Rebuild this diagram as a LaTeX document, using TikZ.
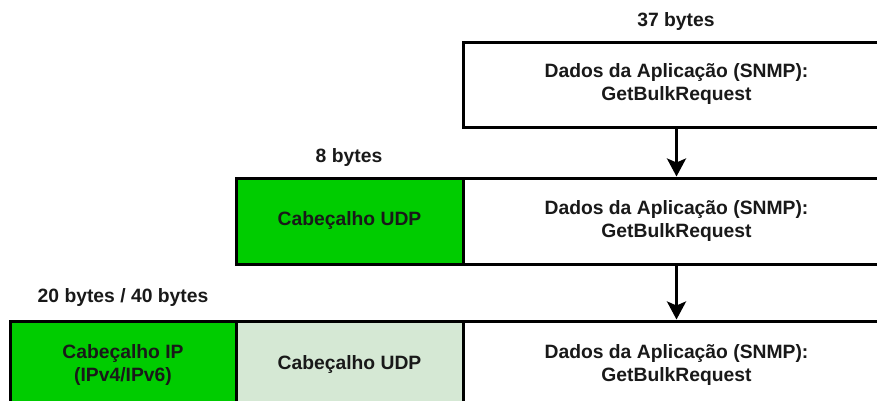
\documentclass[tikz,border=0pt]{standalone}
\usepackage{fontspec}
\setmainfont{Liberation Sans}
\usetikzlibrary{arrows.meta}
\definecolor{hdrgreen}{HTML}{00CC00}
\definecolor{palegreen}{HTML}{D5E8D4}
\begin{document}
\begin{tikzpicture}[x=1pt,y=-1pt,
  field/.style={draw=black, line width=3pt, rectangle, inner sep=0pt,
    align=center, font=\fontsize{19.3}{23}\selectfont\bfseries, text=black!90},
  sizelabel/.style={font=\fontsize{19.3}{23}\selectfont\bfseries, inner sep=0pt, text=black!90},
  flow/.style={line width=3pt, -{Stealth[width=19pt,length=18pt,inset=4pt]}}]
  \useasboundingbox (0,0) rectangle (877,400);
  \clip (0,0) rectangle (877,400);
  \fill[white] (0,0) rectangle (877,400);

  % application payload
  \node[field, fill=white, minimum width=427pt, minimum height=85pt] (app1) at (676.5,84.5)
    {Dados da Aplicação (SNMP):\\GetBulkRequest};
  \node[sizelabel] (len37) at (676,22) {37 bytes};

  % UDP segment
  \node[field, fill=white, minimum width=427pt, minimum height=86pt] (app2) at (676.5,221)
    {Dados da Aplicação (SNMP):\\GetBulkRequest};
  \node[field, fill=hdrgreen, minimum width=227pt, minimum height=86pt] (udp2) at (349.5,221)
    {Cabeçalho UDP};
  \node[sizelabel] (len8) at (349,158) {8 bytes};

  % IP datagram
  \node[field, fill=white, minimum width=427pt, minimum height=88pt] (app3) at (676.5,365)
    {Dados da Aplicação (SNMP):\\GetBulkRequest};
  \node[field, fill=palegreen, minimum width=227pt, minimum height=88pt] (udp3) at (349.5,365)
    {Cabeçalho UDP};
  \node[field, fill=hdrgreen, minimum width=226pt, minimum height=88pt] (ip3) at (123,365)
    {Cabeçalho IP\\(IPv4/IPv6)};
  \node[sizelabel] (len20) at (123,298) {20 bytes / 40 bytes};

  % encapsulation steps
  \draw[flow] (app1.south) -- (app2.north);
  \draw[flow] (app2.south) -- (app3.north);
\end{tikzpicture}
\end{document}
